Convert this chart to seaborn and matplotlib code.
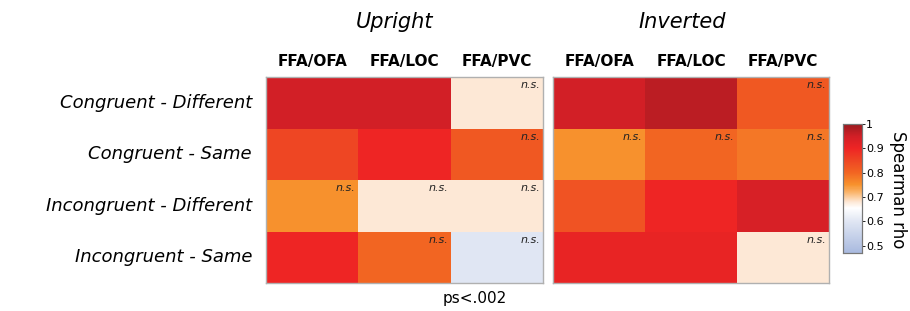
import matplotlib
matplotlib.use("Agg")
import matplotlib.pyplot as plt
import numpy as np
import pandas as pd
import seaborn as sns
from matplotlib.colors import LinearSegmentedColormap

conditions = ["Congruent - Different", "Congruent - Same",
              "Incongruent - Different", "Incongruent - Same"]
roi_pairs = ["FFA/OFA", "FFA/LOC", "FFA/PVC"]

upright_rho = [
    [0.95, 0.95, 0.68],
    [0.85, 0.90, 0.82],
    [0.75, 0.68, 0.68],
    [0.90, 0.80, 0.60],
]
inverted_rho = [
    [0.95, 0.97, 0.82],
    [0.75, 0.80, 0.78],
    [0.83, 0.90, 0.94],
    [0.91, 0.91, 0.68],
]
# True where the correlation was not significant
upright_ns = [
    [False, False, True],
    [False, False, True],
    [True, True, True],
    [False, True, True],
]
inverted_ns = [
    [False, False, True],
    [True, True, True],
    [False, False, False],
    [False, False, True],
]

VMIN, VMAX = 0.47, 1.0
W, H = 910, 311


def build_cmap():
    """Blue -> white -> cream -> orange -> red -> dark red, on the rho scale."""
    stops = [
        (0.47, "#a9badf"),
        (0.60, "#e0e6f3"),
        (0.655, "#ffffff"),
        (0.68, "#fde8d6"),
        (0.72, "#fab56c"),
        (0.75, "#f7922d"),
        (0.80, "#f26522"),
        (0.85, "#ee4623"),
        (0.90, "#ee2524"),
        (0.95, "#d21f26"),
        (1.00, "#9b1b20"),
    ]
    pos = [(v - VMIN) / (VMAX - VMIN) for v, _ in stops]
    return LinearSegmentedColormap.from_list("rho", list(zip(pos, [c for _, c in stops])))


def px_axes(fig, x0, y0, x1, y1):
    return fig.add_axes([x0 / W, 1 - y1 / H, (x1 - x0) / W, (y1 - y0) / H])


def draw_panel(ax, values, ns, cmap, cbar_ax=None, show_rows=False):
    df = pd.DataFrame(values, index=conditions, columns=roi_pairs)
    sns.heatmap(df, ax=ax, cmap=cmap, vmin=VMIN, vmax=VMAX,
                cbar=cbar_ax is not None, cbar_ax=cbar_ax,
                yticklabels=show_rows)
    ax.xaxis.tick_top()
    ax.tick_params(axis="x", length=0, pad=6, colors="black")
    ax.set_xticklabels(roi_pairs, fontsize=11, fontweight="bold", rotation=0)
    if show_rows:
        ax.tick_params(axis="y", length=0, pad=10, colors="black")
        ax.set_yticklabels(conditions, fontsize=13, style="italic", rotation=0)
    ax.set_xlabel("")
    ax.set_ylabel("")
    for r, row in enumerate(ns):
        for c, flag in enumerate(row):
            if flag:
                ax.text(c + 0.97, r + 0.06, "n.s.", ha="right", va="top",
                        fontsize=8, style="italic", color="#222222")
    for spine in ax.spines.values():
        spine.set_visible(True)
        spine.set_color("#b0b0b0")
        spine.set_linewidth(1.0)


def main():
    sns.set_theme(style="white")
    plt.rcParams["font.family"] = ["DejaVu Sans"]
    plt.rcParams["text.color"] = "black"
    cmap = build_cmap()

    fig = plt.figure(figsize=(W / 100, H / 100), dpi=100)
    ax_up = px_axes(fig, 266, 77, 543, 283)
    ax_inv = px_axes(fig, 553, 77, 829, 283)
    cax = px_axes(fig, 843, 124, 862, 253)

    draw_panel(ax_up, upright_rho, upright_ns, cmap, show_rows=True)
    draw_panel(ax_inv, inverted_rho, inverted_ns, cmap, cbar_ax=cax)

    cax.set_yticks([0.5, 0.6, 0.7, 0.8, 0.9, 1.0])
    cax.set_yticklabels(["0.5", "0.6", "0.7", "0.8", "0.9", "1"], fontsize=8)
    cax.tick_params(axis="y", length=2, width=0.6, pad=1, colors="black")
    for spine in cax.spines.values():
        spine.set_visible(True)
        spine.set_color("#777777")
        spine.set_linewidth(0.8)

    fig.text(898 / W, 1 - 190 / H, "Spearman rho", rotation=-90,
             ha="center", va="center", fontsize=12)
    fig.text(395 / W, 1 - 22 / H, "Upright", ha="center", va="center",
             fontsize=15, style="italic")
    fig.text(682 / W, 1 - 22 / H, "Inverted", ha="center", va="center",
             fontsize=15, style="italic")
    fig.text(475 / W, 1 - 299 / H, "ps<.002", ha="center", va="center",
             fontsize=11)

    fig.savefig("out.png", dpi=100)
    plt.close(fig)


if __name__ == "__main__":
    main()
